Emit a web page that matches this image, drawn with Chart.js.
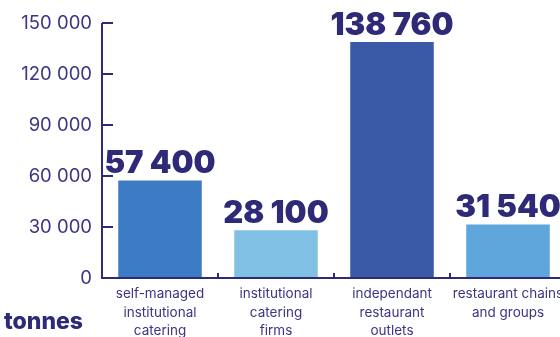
<!DOCTYPE html>
<html>
<head>
<meta charset="utf-8">
<script src="https://cdn.jsdelivr.net/npm/chart.js@4/dist/chart.umd.min.js"></script>
<style>
  html, body { margin: 0; padding: 0; background: #fff; overflow: hidden; }
  #wrap { width: 600px; height: 337px; }
</style>
</head>
<body>
<div id="wrap"><canvas id="tonnageChart" width="600" height="337"></canvas></div>
<script>
var categories = [
    ['self-managed', 'institutional', 'catering'],
    ['institutional', 'catering', 'firms'],
    ['independant', 'restaurant', 'outlets'],
    ['restaurant chains', 'and groups']
];
var tonnes = [57400, 28100, 138760, 31540];
var barColors = ['#3d7cc4', '#80c0e4', '#3a5aa8', '#5ea6dc'];
var yTicks = [0, 30000, 60000, 90000, 120000, 150000];

var navy = '#2e2a78';
var labelColor = '#3b3585';

function spaced(n) {
    return String(n).replace(/\B(?=(\d{3})+(?!\d))/g, ' ');
}

// axis line with inward ticks, value labels over bars, unit caption
var decorations = {
    id: 'decorations',
    afterDatasetsDraw: function (chart) {
        var ctx = chart.ctx;
        var x = chart.scales.x, y = chart.scales.y;
        var area = chart.chartArea;
        ctx.save();
        ctx.strokeStyle = navy;
        ctx.lineWidth = 2;
        ctx.beginPath();
        ctx.moveTo(area.left, y.getPixelForValue(150000));
        ctx.lineTo(area.left, y.getPixelForValue(0));
        ctx.lineTo(area.right, y.getPixelForValue(0));
        yTicks.forEach(function (v) {
            var py = y.getPixelForValue(v);
            ctx.moveTo(area.left, py);
            ctx.lineTo(area.left + 11, py);
        });
        for (var i = 1; i < categories.length; i++) {
            var px = (x.getPixelForValue(i - 1) + x.getPixelForValue(i)) / 2;
            ctx.moveTo(px, y.getPixelForValue(0));
            ctx.lineTo(px, y.getPixelForValue(0) - 5);
        }
        ctx.stroke();

        ctx.fillStyle = navy;
        ctx.textAlign = 'center';
        ctx.textBaseline = 'alphabetic';
        ctx.font = '900 31px Inter';
        var meta = chart.getDatasetMeta(0);
        meta.data.forEach(function (bar, i) {
            ctx.fillText(spaced(tonnes[i]), bar.x, bar.y - 7);
        });

        ctx.textAlign = 'left';
        ctx.textBaseline = 'middle';
        ctx.font = '800 23px Inter';
        ctx.fillText('tonnes', 4, 322);
        ctx.restore();
    }
};

var ctx = document.getElementById('tonnageChart').getContext('2d');
var tonnageChart = new Chart(ctx, {
    type: 'bar',
    data: {
        labels: categories,
        datasets: [{
            data: tonnes,
            backgroundColor: barColors,
            borderWidth: 0,
            categoryPercentage: 1,
            barPercentage: 0.72
        }]
    },
    options: {
        responsive: false,
        animation: false,
        layout: { padding: { top: 23, right: 34, left: 0, bottom: 0 } },
        plugins: { legend: { display: false }, tooltip: { enabled: false } },
        scales: {
            x: {
                grid: { display: false, drawTicks: false },
                border: { display: false },
                ticks: {
                    color: labelColor,
                    font: { family: 'Inter', size: 13.5, lineHeight: 1.36 },
                    padding: 7,
                    maxRotation: 0,
                    autoSkip: false
                },
                afterFit: function (scale) { scale.height = 59; }
            },
            y: {
                min: 0,
                max: 150000,
                grid: { display: false, drawTicks: false },
                border: { display: false },
                afterBuildTicks: function (scale) {
                    scale.ticks = yTicks.map(function (v) { return { value: v }; });
                },
                ticks: {
                    color: labelColor,
                    font: { family: 'Inter', size: 18.5 },
                    padding: 10,
                    callback: function (v) { return spaced(v); }
                },
                afterFit: function (scale) { scale.width = 102; }
            }
        }
    },
    plugins: [decorations]
});
</script>
</body>
</html>
